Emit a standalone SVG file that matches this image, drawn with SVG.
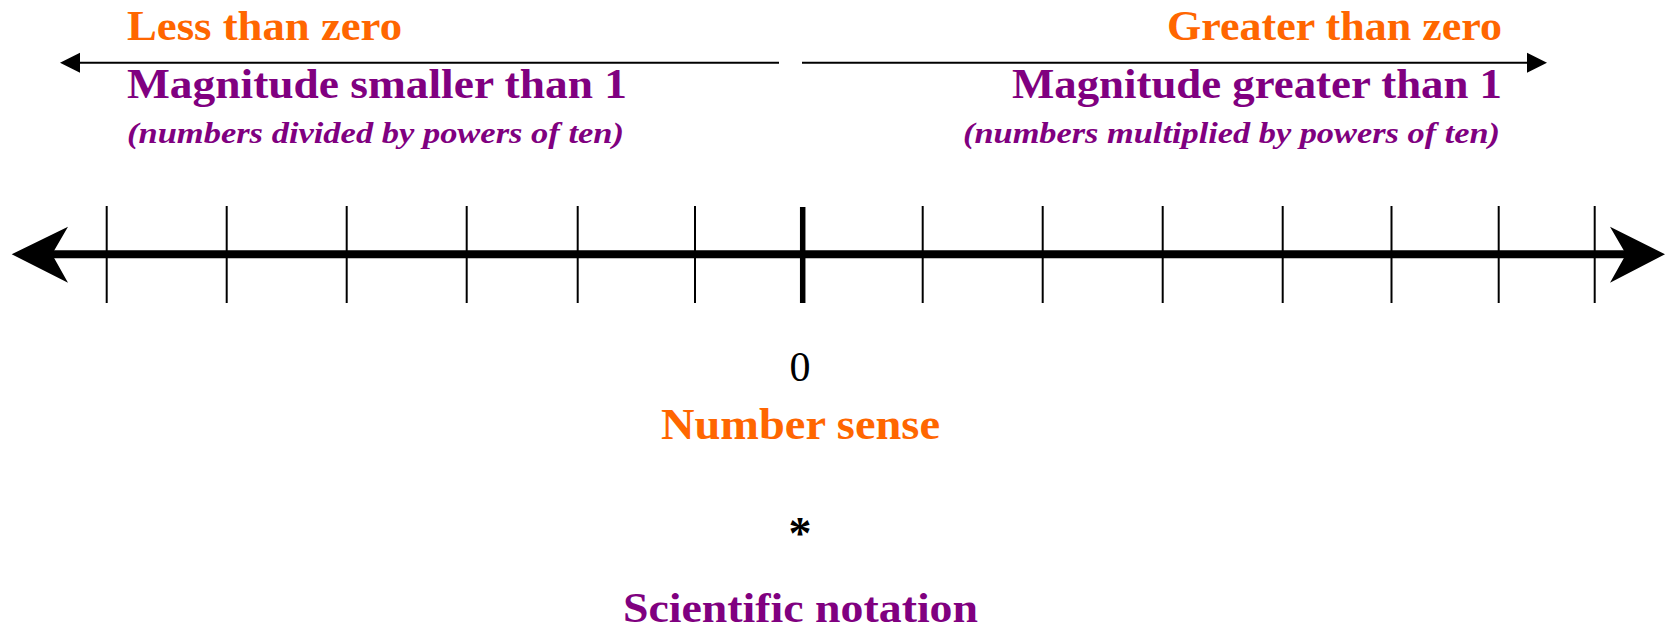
<svg xmlns="http://www.w3.org/2000/svg" width="1666" height="631" viewBox="0 0 1666 631">
<style>
.t{font-family:"Liberation Serif","Times New Roman",serif;}
.b{font-weight:bold;}
.i{font-style:italic;font-weight:bold;}
.or{fill:#FF6600;}
.pu{fill:#800080;}
.tick{stroke:#000;stroke-width:2;}
</style>
<rect width="1666" height="631" fill="#fff"/>
<g id="connectors">
  <line x1="78" y1="62.7" x2="779" y2="62.7" stroke="#000" stroke-width="2"/>
  <polygon points="60,62.7 80,52.7 80,72.7" fill="#000"/>
  <line x1="802" y1="62.7" x2="1529" y2="62.7" stroke="#000" stroke-width="2"/>
  <polygon points="1547,62.7 1527,52.7 1527,72.7" fill="#000"/>
  <line x1="45" y1="254.3" x2="1632" y2="254.3" stroke="#000" stroke-width="8"/>
  <polygon points="11.7,254.3 68,226.7 52,254.3 68,282.7" fill="#000"/>
  <polygon points="1665,254.3 1610,226.7 1626,254.3 1610,282.7" fill="#000"/>
</g>
<g id="ticks">
  <line class="tick" x1="106.7" y1="206" x2="106.7" y2="303"/>
  <line class="tick" x1="226.7" y1="206" x2="226.7" y2="303"/>
  <line class="tick" x1="346.7" y1="206" x2="346.7" y2="303"/>
  <line class="tick" x1="466.7" y1="206" x2="466.7" y2="303"/>
  <line class="tick" x1="577.7" y1="206" x2="577.7" y2="303"/>
  <line class="tick" x1="695" y1="206" x2="695" y2="303"/>
  <line x1="802.7" y1="207" x2="802.7" y2="303" stroke="#000" stroke-width="5.5"/>
  <line class="tick" x1="922.7" y1="206" x2="922.7" y2="303"/>
  <line class="tick" x1="1042.7" y1="206" x2="1042.7" y2="303"/>
  <line class="tick" x1="1162.7" y1="206" x2="1162.7" y2="303"/>
  <line class="tick" x1="1282.7" y1="206" x2="1282.7" y2="303"/>
  <line class="tick" x1="1391.5" y1="206" x2="1391.5" y2="303"/>
  <line class="tick" x1="1498.7" y1="206" x2="1498.7" y2="303"/>
  <line class="tick" x1="1594.7" y1="206" x2="1594.7" y2="303"/>
</g>
<g id="left-labels">
  <text class="t b or" x="127" y="40" font-size="42" textLength="275" lengthAdjust="spacingAndGlyphs">Less than zero</text>
  <text class="t b pu" x="127" y="98" font-size="42" textLength="500" lengthAdjust="spacingAndGlyphs">Magnitude smaller than 1</text>
  <text class="t i pu" x="127" y="143" font-size="30" textLength="497" lengthAdjust="spacingAndGlyphs">(numbers divided by powers of ten)</text>
</g>
<g id="right-labels">
  <text class="t b or" x="1167" y="40" font-size="42" textLength="335" lengthAdjust="spacingAndGlyphs">Greater than zero</text>
  <text class="t b pu" x="1012" y="98" font-size="42" textLength="490" lengthAdjust="spacingAndGlyphs">Magnitude greater than 1</text>
  <text class="t i pu" x="963" y="143" font-size="30" textLength="537" lengthAdjust="spacingAndGlyphs">(numbers multiplied by powers of ten)</text>
</g>
<g id="zero-label">
  <text class="t" x="800" y="381" font-size="42" text-anchor="middle">0</text>
</g>
<g id="number-sense">
  <text class="t b or" x="661" y="439" font-size="44" textLength="279" lengthAdjust="spacingAndGlyphs">Number sense</text>
</g>
<g id="asterisk">
  <text class="t b" x="800" y="549" font-size="46" text-anchor="middle">*</text>
</g>
<g id="scientific-notation">
  <text class="t b pu" x="623" y="622" font-size="43" textLength="355" lengthAdjust="spacingAndGlyphs">Scientific notation</text>
</g>
</svg>
